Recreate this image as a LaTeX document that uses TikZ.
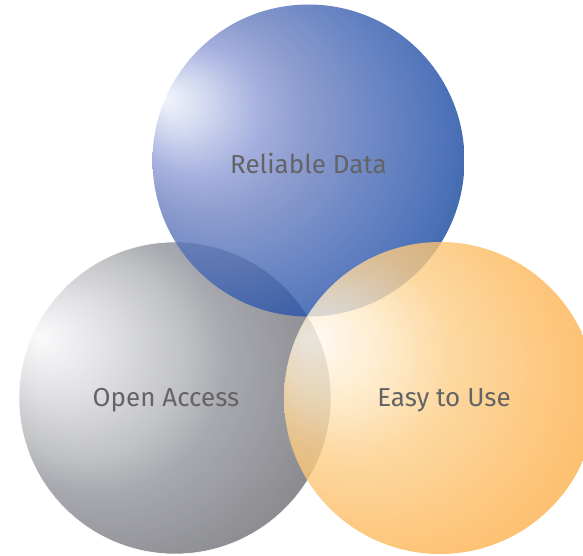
\documentclass[tikz,border=0pt]{standalone}
\usepackage{fontspec}
\setmainfont{Fira Sans}
\pgfdeclareradialshading{blueball}{\pgfqpoint{-23bp}{10bp}}{rgb(0bp)=(0.94,0.95,0.985); rgb(4bp)=(0.80,0.83,0.93); rgb(10.4bp)=(0.56,0.615,0.84); rgb(15.5bp)=(0.437,0.515,0.76); rgb(31.2bp)=(0.13,0.31,0.66); rgb(34bp)=(0.07,0.265,0.58); rgb(50bp)=(0.07,0.265,0.58)}
\pgfdeclareradialshading{grayball}{\pgfqpoint{-22bp}{10bp}}{rgb(0bp)=(0.98,0.98,0.988); rgb(8bp)=(0.85,0.853,0.867); rgb(16.3bp)=(0.69,0.698,0.71); rgb(21bp)=(0.573,0.58,0.612); rgb(33bp)=(0.427,0.431,0.451); rgb(50bp)=(0.427,0.431,0.451)}
\pgfdeclareradialshading{orangeball}{\pgfqpoint{-21bp}{10bp}}{rgb(0bp)=(1,0.98,0.945); rgb(8bp)=(0.996,0.91,0.765); rgb(16.3bp)=(0.99,0.81,0.535); rgb(26.8bp)=(0.99,0.73,0.377); rgb(33bp)=(0.984,0.69,0.298); rgb(50bp)=(0.984,0.69,0.298)}
\definecolor{labelgray}{RGB}{100,100,102}
\tikzset{
  ball/.style={circle, minimum size=312pt, inner sep=0pt, fill opacity=0.8, text opacity=1,
    text=labelgray, font=\fontsize{26}{30}\selectfont},
}
\begin{document}
\begin{tikzpicture}[x=1pt,y=-1pt]
\useasboundingbox (0,0) rectangle (583,555);
\node[ball, shading=grayball, draw=white, draw opacity=1, line width=0.6pt] (access) at (175,398) {\hspace*{-18pt}\raisebox{-2pt}[\height][\depth]{Open Access}};
\node[ball, shading=blueball] (data) at (308.5,160.5) {\raisebox{-3pt}[\height][\depth]{Reliable Data}};
\node[ball, shading=orangeball] (easy) at (440,398) {\hspace*{8pt}\raisebox{-2pt}[\height][\depth]{Easy to Use}};
\end{tikzpicture}
\end{document}
